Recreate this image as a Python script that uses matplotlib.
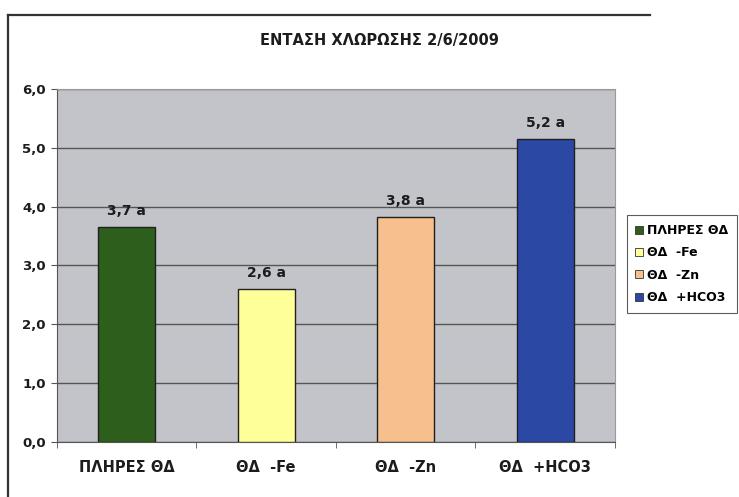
import matplotlib
matplotlib.use("Agg")
import matplotlib.pyplot as plt
from matplotlib.lines import Line2D
from matplotlib.patches import Patch

# data
categories = ["ΠΛΗΡΕΣ ΘΔ", "ΘΔ  -Fe", "ΘΔ  -Zn", "ΘΔ  +HCO3"]
values = [3.65, 2.60, 3.82, 5.15]
bar_labels = ["3,7 a", "2,6 a", "3,8 a", "5,2 a"]
colors = ["#2e5e1c", "#ffff99", "#f5c08e", "#2b48a4"]
yticks = [0, 1, 2, 3, 4, 5, 6]
ytick_labels = ["0,0", "1,0", "2,0", "3,0", "4,0", "5,0", "6,0"]

plt.rcParams['font.family'] = ['DejaVu Sans']
txt = "#1c1c1c"

fig = plt.figure(figsize=(7.39, 4.97), dpi=100)
ax = fig.add_axes([0.0771, 0.1107, 0.755, 0.7103])
ax.set_facecolor("#c2c4c9")

x = range(len(categories))
ax.bar(x, values, width=0.41, color=colors, edgecolor="#202020", linewidth=1.0, zorder=3)
for i, (v, lab) in enumerate(zip(values, bar_labels)):
    ax.text(i, v + 0.16, lab, ha="center", va="bottom", fontsize=10,
            fontweight="bold", color=txt, zorder=4)

ax.set_xlim(-0.5, 3.5)
ax.set_ylim(0, 6)
ax.set_yticks(yticks)
ax.set_yticklabels(ytick_labels, fontsize=9.5, fontweight="bold", color=txt)
ax.set_xticks(list(x))
ax.set_xticklabels(categories, fontsize=10.5, fontweight="bold", color=txt)
ax.tick_params(axis="x", length=0, pad=13)
ax.set_xticks([-0.5, 0.5, 1.5, 2.5, 3.5], minor=True)
ax.tick_params(axis="x", which="minor", length=4, color="#555555")
ax.tick_params(axis="y", length=4, color="#555555", pad=4)
ax.yaxis.grid(True, color="#555555", linewidth=1.0, zorder=1)
for s in ["top", "right"]:
    ax.spines[s].set_color("#9a9a9a")
for s in ["left", "bottom"]:
    ax.spines[s].set_color("#555555")

fig.suptitle("ΕΝΤΑΣΗ ΧΛΩΡΩΣΗΣ 2/6/2009", x=0.514, y=0.933, fontsize=10.5,
             fontweight="bold", color=txt)

handles = [Patch(facecolor=c, edgecolor="#333333", linewidth=0.6) for c in colors]
leg = fig.legend(handles, categories, loc="upper left", bbox_to_anchor=(0.848, 0.567),
                 frameon=True, fancybox=False, edgecolor="#333333",
                 prop={"weight": "bold", "size": 9}, handlelength=0.6, handleheight=0.6,
                 handletextpad=0.35, labelspacing=0.75, borderpad=0.7, borderaxespad=0)
leg.get_frame().set_linewidth(0.8)

# outer chart border
fig.add_artist(Line2D([8 / 739, 8 / 739], [0, 1 - 15 / 497], color="#333333", linewidth=1.6))
fig.add_artist(Line2D([8 / 739, 650 / 739], [1 - 15 / 497, 1 - 15 / 497], color="#333333", linewidth=1.6))

fig.savefig("out.png", dpi=100)
